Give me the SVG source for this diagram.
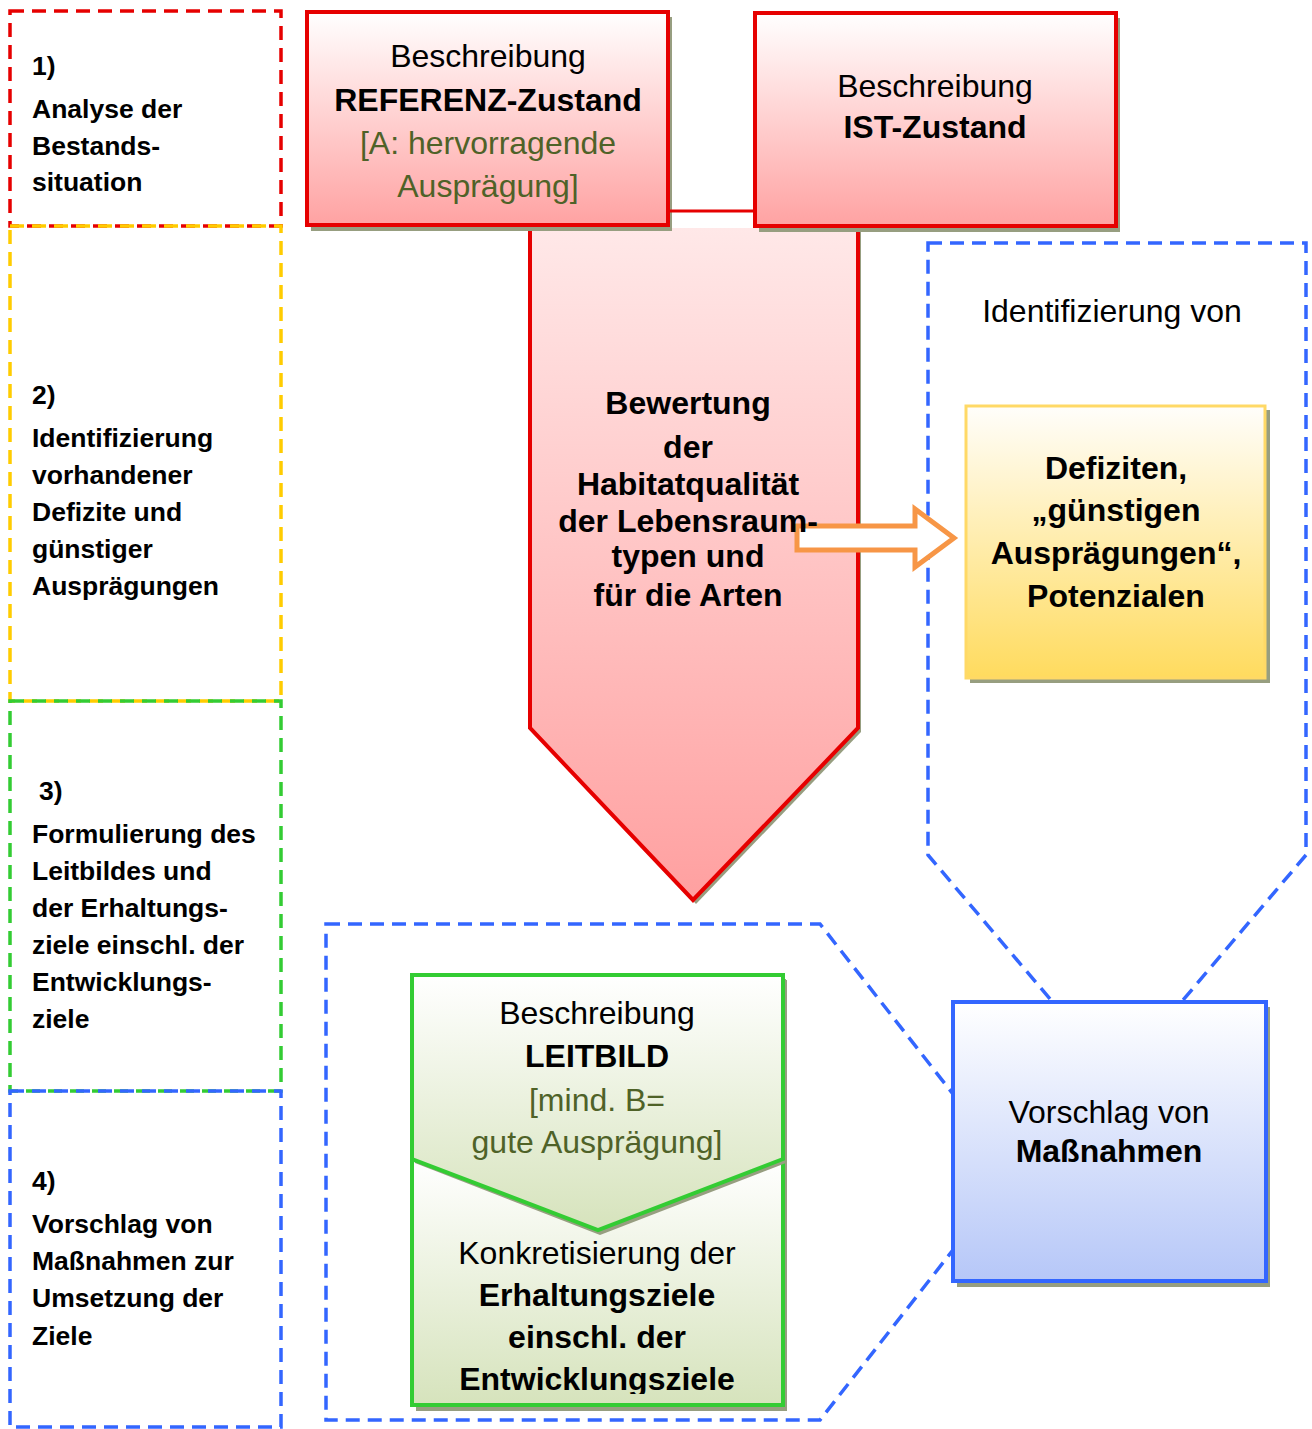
<svg xmlns="http://www.w3.org/2000/svg" width="1312" height="1429" viewBox="0 0 1312 1429">
<style>
text{font-family:"Liberation Sans",Arial,sans-serif;fill:#000}
.l{font-size:26.5px;font-weight:bold}
.t{font-size:32px;text-anchor:middle}
.b{font-weight:bold}
.o{fill:#4f6228}
.dash{fill:none;stroke-width:3.5;stroke-dasharray:14 8}
.sh{fill:#979e80}
</style>
<defs>
<linearGradient id="gRed" x1="0" y1="0" x2="0" y2="1"><stop offset="0" stop-color="#ffffff"/><stop offset="1" stop-color="#ffa2a2"/></linearGradient>
<linearGradient id="gArrow" x1="0" y1="0" x2="0" y2="1"><stop offset="0" stop-color="#ffe8e8"/><stop offset="1" stop-color="#ffa0a0"/></linearGradient>
<linearGradient id="gYel" x1="0" y1="0" x2="0" y2="1"><stop offset="0" stop-color="#fffefb"/><stop offset="1" stop-color="#ffdb5e"/></linearGradient>
<linearGradient id="gBlue" x1="0" y1="0" x2="0" y2="1"><stop offset="0" stop-color="#ffffff"/><stop offset="1" stop-color="#b6c7f8"/></linearGradient>
<linearGradient id="gGreen" x1="0" y1="0" x2="0" y2="1"><stop offset="0" stop-color="#ffffff"/><stop offset="1" stop-color="#d6e3bc"/></linearGradient>
<linearGradient id="gGreenLow" x1="0" y1="975" x2="0" y2="1405" gradientUnits="userSpaceOnUse"><stop offset="0.43" stop-color="#ffffff"/><stop offset="1" stop-color="#d6e3bc"/></linearGradient>
<clipPath id="clipGreen"><rect x="412" y="975" width="371" height="419"/></clipPath>
</defs>

<g id="step1">
<rect class="dash" x="10" y="11" width="271" height="215" stroke="#e60000"/>
<text class="l" x="32" y="75">1)</text>
<text class="l" x="32" y="118">Analyse der</text>
<text class="l" x="32" y="155">Bestands-</text>
<text class="l" x="32" y="191">situation</text>
</g>
<g id="step2">
<rect class="dash" x="10" y="226" width="271" height="475" stroke="#ffcc00"/>
<text class="l" x="32" y="404">2)</text>
<text class="l" x="32" y="447">Identifizierung</text>
<text class="l" x="32" y="484">vorhandener</text>
<text class="l" x="32" y="521">Defizite und</text>
<text class="l" x="32" y="558">günstiger</text>
<text class="l" x="32" y="595">Ausprägungen</text>
</g>
<g id="step3">
<rect class="dash" x="10" y="701" width="271" height="390" stroke="#33cc33"/>
<text class="l" x="39" y="800">3)</text>
<text class="l" x="32" y="843">Formulierung des</text>
<text class="l" x="32" y="880">Leitbildes und</text>
<text class="l" x="32" y="917">der Erhaltungs-</text>
<text class="l" x="32" y="954">ziele einschl. der</text>
<text class="l" x="32" y="991">Entwicklungs-</text>
<text class="l" x="32" y="1028">ziele</text>
</g>
<g id="step4">
<rect class="dash" x="10" y="1091" width="271" height="336" stroke="#3366ff"/>
<text class="l" x="32" y="1190">4)</text>
<text class="l" x="32" y="1233">Vorschlag von</text>
<text class="l" x="32" y="1270">Maßnahmen zur</text>
<text class="l" x="32" y="1307">Umsetzung der</text>
<text class="l" x="32" y="1345">Ziele</text>
</g>

<g id="identifizierung-bereich">
<polygon class="dash" points="928,243 1306,243 1306,855 1117,1078 928,855" stroke="#3366ff"/>
<text class="t" x="1112" y="322">Identifizierung von</text>
</g>
<g id="leitbild-bereich">
<polygon class="dash" points="326,924 820,924 1014,1172 820,1420 326,1420" stroke="#3366ff"/>
</g>

<g id="bewertung">
<polygon class="sh" points="533,231 861,231 861,732 696,904 533,732"/>
<polygon points="530,228 858,228 858,728 693,900 530,728" fill="url(#gArrow)"/>
<polyline points="858,228 858,728 693,900 530,728 530,228" fill="none" stroke="#e60000" stroke-width="4"/>
</g>

<g id="referenz">
<rect class="sh" x="311" y="17" width="361" height="214"/>
<rect x="307" y="12" width="361" height="213" fill="url(#gRed)" stroke="#e60000" stroke-width="4"/>
<text class="t" x="488" y="67">Beschreibung</text>
<text class="t b" x="488" y="111">REFERENZ-Zustand</text>
<text class="t o" x="488" y="154">[A: hervorragende</text>
<text class="t o" x="488" y="197">Ausprägung]</text>
</g>

<g id="ist">
<rect class="sh" x="759" y="18" width="361" height="214"/>
<rect x="755" y="13" width="361" height="213" fill="url(#gRed)" stroke="#e60000" stroke-width="4"/>
<text class="t" x="935" y="97">Beschreibung</text>
<text class="t b" x="935" y="138">IST-Zustand</text>
</g>

<g id="connectors">
<line x1="670" y1="211" x2="753" y2="211" stroke="#e60000" stroke-width="3"/>
<polygon points="797,526 915,526 915,509 954,538 915,567 915,550 797,550" fill="#ffffff" stroke="#f79646" stroke-width="5"/>
</g>

<g id="bewertung-text">
<text class="t b" x="688" y="414">Bewertung</text>
<text class="t b" x="688" y="458">der</text>
<text class="t b" x="688" y="495">Habitatqualität</text>
<text class="t b" x="688" y="532">der Lebensraum-</text>
<text class="t b" x="688" y="567">typen und</text>
<text class="t b" x="688" y="606">für die Arten</text>
</g>

<g id="defizite">
<rect class="sh" x="970" y="410" width="300" height="273"/>
<rect x="966" y="406" width="299" height="272" fill="url(#gYel)" stroke="#ffd966" stroke-width="3"/>
<text class="t b" x="1116" y="479">Defiziten,</text>
<text class="t b" x="1116" y="521">„günstigen</text>
<text class="t b" x="1116" y="564">Ausprägungen“,</text>
<text class="t b" x="1116" y="607">Potenzialen</text>
</g>

<g id="massnahmen">
<rect class="sh" x="957" y="1007" width="313" height="280"/>
<rect x="953" y="1002" width="313" height="279" fill="url(#gBlue)" stroke="#3366ff" stroke-width="4"/>
<text class="t" x="1109" y="1123">Vorschlag von</text>
<text class="t b" x="1109" y="1162">Maßnahmen</text>
</g>

<g id="leitbild">
<rect class="sh" x="416" y="980" width="371" height="431"/>
<rect x="412" y="975" width="371" height="430" fill="url(#gGreenLow)" stroke="#33cc33" stroke-width="4"/>
<polygon class="sh" points="415,979 786,979 786,1163 600,1235 415,1163"/>
<polygon points="412,975 783,975 783,1159 598,1230 412,1159" fill="url(#gGreen)" stroke="#33cc33" stroke-width="4"/>
<text class="t" x="597" y="1024">Beschreibung</text>
<text class="t b" x="597" y="1067">LEITBILD</text>
<text class="t o" x="597" y="1111">[mind. B=</text>
<text class="t o" x="597" y="1153">gute Ausprägung]</text>
<g clip-path="url(#clipGreen)">
<text class="t" x="597" y="1264">Konkretisierung der</text>
<text class="t b" x="597" y="1306">Erhaltungsziele</text>
<text class="t b" x="597" y="1348">einschl. der</text>
<text class="t b" x="597" y="1390">Entwicklungsziele</text>
</g>
</g>
</svg>
